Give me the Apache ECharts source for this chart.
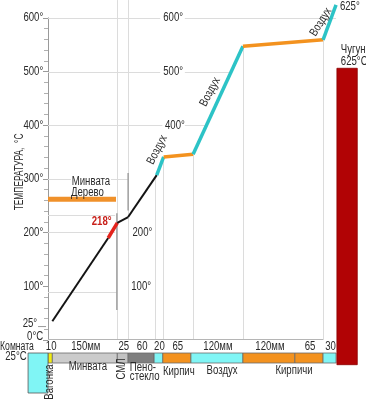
<!DOCTYPE html>
<html><head><meta charset="utf-8">
<script src="https://cdn.jsdelivr.net/npm/echarts@6/dist/echarts.min.js"></script>
<style>html,body{margin:0;padding:0;background:#fff}#c{width:366px;height:400px}</style>
</head><body><div id="c"></div>
<script>
const FONT = "'Liberation Sans',Arial,sans-serif";
const SX = 0.8; // narrow text

// ---- DATA ----
// wall layers, left (room) -> right (stove), thickness in mm
const layerThickness = [10, 150, 25, 60, 20, 65, 120, 120, 65, 30];
const layerMaterial  = ['wood','minvata','sml','foam','air','brick','air','brick','brick','air'];
const layerTopLabels = ['10','150мм','25','60','20','65','120мм','120мм','65','30'];

// temperature profile through the wall (position mm, temperature °C)
const profilePos  = [10, 139, 160, 185, 251, 267, 335, 450, 635, 665];
const profileTemp = [35, 190, 218, 229, 307, 341, 346, 547, 559, 624];
const profileKind = ['black','red','black','black','air','brick','air','brick','air'];

const yTicks = [0, 100, 200, 300, 400, 500, 600];
const yTickLabels = ['0°C', '100°', '200°', '300°', '400°', '500°', '600°'];
const roomTemp = 25;
const peakTemp = 625;
const redMarkTemp = 218;
const ignitionTemp = 262;          // Минвата / Дерево
const ignitionSpan = [0, 157];
const castIronSpan = [667, 714];
const castIronTop = 506;
const castIronBottom = -46;

// ---- styles ----
const fillColors = {wood:'#f2ec12', minvata:'#cbcbcb', sml:'#c3c3c3', foam:'#7f7f7f', air:'#80f5f5', brick:'#f3921f'};
const lineColors = {black:'#141414', red:'#e3231c', air:'#2cc3c6', brick:'#f3921f'};
const lineWidths = {black:2, red:3.5, air:3.5, brick:3.5};

const layerStart = [], layerEnd = [];
let acc = 0;
layerThickness.forEach(t => { layerStart.push(acc); acc += t; layerEnd.push(acc); });

// faint grid segments: [T, x0, x1] horizontal ; [x, T0, T1] vertical
const hGrid = [[600,0,259],[600,316,665],[500,0,259],[500,316,423],[400,0,264],[400,316,366],
               [300,0,185],[232,0,155],[201,0,155],[89,0,160]];
const vGrid = [[160,0,633],[185,0,633],[247,0,307],[266,0,341],[335,0,346],[450,0,547],[635,0,559]];
const vDark = [[159,56,236],[185,241,311]];

const annotations = [
  {t:'600°', x:289, y:600}, {t:'500°', x:289, y:500}, {t:'400°', x:293, y:400},
  {t:'200°', x:218, y:200}, {t:'100°', x:215, y:100},
  {t:redMarkTemp+'°', x:124, y:221, c:'#c8201a', b:true},
  {t:'Минвата', x:53, y:294, a:'left', bg:true}, {t:'Дерево', x:53, y:275, a:'left'},
  {t:'Воздух', x:252, y:354, r:63}, {t:'Воздух', x:374, y:462, r:62}, {t:'Воздух', x:630, y:592, r:58},
  {t:peakTemp+'°', x:674, y:621, a:'left'},
  {t:'Чугун', x:676, y:540, a:'left'}, {t:peakTemp+'°C', x:676, y:518, a:'left'},
  {t:roomTemp+'°', x:-25, y:roomTemp+6, a:'right'},
  {t:'ТЕМПЕРАТУРА,  °С', x:-65, y:313, r:90, sx:0.7}
].concat(yTicks.map((v,i)=>({t:yTickLabels[i], x:-11, y:v===0 ? 6 : v, a:'right'})));

const stripTexts = [
  {t:'Вагонка', x:4.6, y:-1.9, r:90},
  {t:'Минвата', x:92, y:-0.4},
  {t:'СМЛ', x:171, y:-0.6, r:90},
  {t:'Пено-', x:189, y:-0.5, a:'left'}, {t:'стекло', x:189, y:-1.4, a:'left'},
  {t:'Кирпич', x:302, y:-0.9},
  {t:'Воздух', x:402, y:-0.8},
  {t:'Кирпичи', x:568, y:-0.8},
  {t:'Комната', x:-71.6, y:1.6, sx:0.72}, {t:roomTemp+'°C', x:-74, y:0.6}
];

function textEl(a, p){
  return {type:'text', x:p[0], y:p[1], rotation:(a.r||0)*Math.PI/180, scaleX:a.sx||SX,
    style:{text:a.t, fill:a.c||'#2a2a2a', font:(a.b?'bold ':'')+(a.s||12)+'px '+FONT,
      align:a.a||'center', verticalAlign:'middle',
      backgroundColor:a.bg?'#fff':null, padding:a.bg?[0,1]:0}};
}

const chart = echarts.init(document.getElementById('c'), null, {renderer:'canvas'});
const LEFT = 48, RIGHT = 8.3;
const series = [];

series.push({type:'custom', xAxisIndex:0, yAxisIndex:0, clip:false, silent:true, z:1,
  data:[[0,0]],
  renderItem:(params, api)=>{
    const children = [];
    hGrid.forEach(g=>{const a=api.coord([g[1],g[0]]), b=api.coord([g[2],g[0]]);
      children.push({type:'line', shape:{x1:a[0],y1:Math.round(a[1])+0.5,x2:b[0],y2:Math.round(b[1])+0.5}, style:{stroke:'#dcdcdc', lineWidth:1}});});
    vGrid.forEach(g=>{const a=api.coord([g[0],g[1]]), b=api.coord([g[0],g[2]]);
      children.push({type:'line', shape:{x1:Math.round(a[0])+0.5,y1:a[1],x2:Math.round(b[0])+0.5,y2:b[1]}, style:{stroke:'#dcdcdc', lineWidth:1}});});
    vDark.forEach(g=>{const a=api.coord([g[0],g[1]]), b=api.coord([g[0],g[2]]);
      children.push({type:'line', shape:{x1:a[0],y1:a[1],x2:b[0],y2:b[1]}, style:{stroke:'#a0a0a0', lineWidth:1.5}});});
    const a=api.coord([0,0]), b=api.coord([635,0]);
    children.push({type:'line', shape:{x1:a[0],y1:a[1]-0.5,x2:b[0],y2:b[1]-0.5}, style:{stroke:'#b5b5b5', lineWidth:1}});
    const t1=api.coord([-23,roomTemp]), t2=api.coord([-4.5,roomTemp]);
    children.push({type:'line', shape:{x1:t1[0],y1:t1[1],x2:t2[0],y2:t2[1]}, style:{stroke:'#999', lineWidth:1}});
    const i1=api.coord([ignitionSpan[0],ignitionTemp]), i2=api.coord([ignitionSpan[1],ignitionTemp]);
    children.push({type:'line', shape:{x1:i1[0],y1:i1[1],x2:i2[0],y2:i2[1]}, style:{stroke:'#f0912a', lineWidth:5}});
    return {type:'group', children};
  }});

for (let i=0;i<profileKind.length;i++){
  const k = profileKind[i];
  series.push({type:'line', xAxisIndex:0, yAxisIndex:0, clip:false, silent:true, z:5, showSymbol:false, symbol:'none',
    data:[[profilePos[i],profileTemp[i]],[profilePos[i+1],profileTemp[i+1]]],
    lineStyle:{color:lineColors[k], width:lineWidths[k], cap:'butt'}});
}

series.push({type:'custom', xAxisIndex:0, yAxisIndex:0, clip:false, silent:true, z:4,
  data:[[castIronSpan[0], castIronTop]],
  renderItem:(params, api)=>{
    const a=api.coord([castIronSpan[0], castIronTop]), b=api.coord([castIronSpan[1], castIronBottom]);
    return {type:'rect', shape:{x:a[0],y:a[1],width:b[0]-a[0],height:b[1]-a[1]}, style:{fill:'#b10305', stroke:'#8d0000', lineWidth:0.8}};
  }});

series.push({type:'custom', xAxisIndex:0, yAxisIndex:0, clip:false, silent:true, z:10,
  data: annotations.map(a=>[a.x,a.y]),
  renderItem:(params, api)=>{const a=annotations[params.dataIndex]; return textEl(a, api.coord([a.x,a.y]));}});

series.push({type:'custom', xAxisIndex:1, yAxisIndex:1, clip:false, silent:true, z:3,
  data: layerThickness.map((t,i)=>[layerStart[i], layerEnd[i]]),
  renderItem:(params, api)=>{
    const i=params.dataIndex, s=layerStart[i], e=layerEnd[i];
    const p0=api.coord([s,1]), p1=api.coord([e,0]), m=api.coord([(s+e)/2,1]);
    return {type:'group', children:[
      {type:'rect', shape:{x:p0[0],y:p0[1],width:p1[0]-p0[0],height:p1[1]-p0[1]}, style:{fill:fillColors[layerMaterial[i]], stroke:'#6a6a6a', lineWidth:0.8}},
      textEl({t:layerTopLabels[i]}, [m[0]+1, m[1]-6])
    ]};
  }});

series.push({type:'custom', xAxisIndex:1, yAxisIndex:1, clip:false, silent:true, z:3,
  data:[[-46,1]],
  renderItem:(params, api)=>{
    const a=api.coord([-46,1]), b=api.coord([0,-3]);
    return {type:'rect', shape:{x:a[0],y:a[1],width:b[0]-a[0],height:b[1]-a[1]}, style:{fill:fillColors.air, stroke:'#555', lineWidth:0.8}};
  }});

series.push({type:'custom', xAxisIndex:1, yAxisIndex:1, clip:false, silent:true, z:10,
  data: stripTexts.map(a=>[a.x,a.y]),
  renderItem:(params, api)=>{const a=stripTexts[params.dataIndex]; return textEl(a, api.coord([a.x,a.y]));}});

chart.setOption({
  animation:false,
  backgroundColor:'#fff',
  grid:[{left:LEFT, right:RIGHT, top:17.8, bottom:60, outerBoundsMode:'none', containLabel:false},
        {left:LEFT, right:RIGHT, top:353, height:10, outerBoundsMode:'none', containLabel:false}],
  xAxis:[{type:'value', min:0, max:715, show:false, gridIndex:0},
         {type:'value', min:0, max:715, show:false, gridIndex:1}],
  yAxis:[{type:'value', gridIndex:0, min:0, max:600, interval:100,
          axisLine:{show:true, lineStyle:{color:'#9a9a9a'}},
          axisTick:{show:true, length:5, lineStyle:{color:'#9a9a9a'}},
          minorTick:{show:true, splitNumber:5, length:4, lineStyle:{color:'#b0b0b0'}},
          splitLine:{show:false},
          axisLabel:{show:false}},
         {type:'value', gridIndex:1, min:0, max:1, show:false}],
  series
});
</script></body></html>
